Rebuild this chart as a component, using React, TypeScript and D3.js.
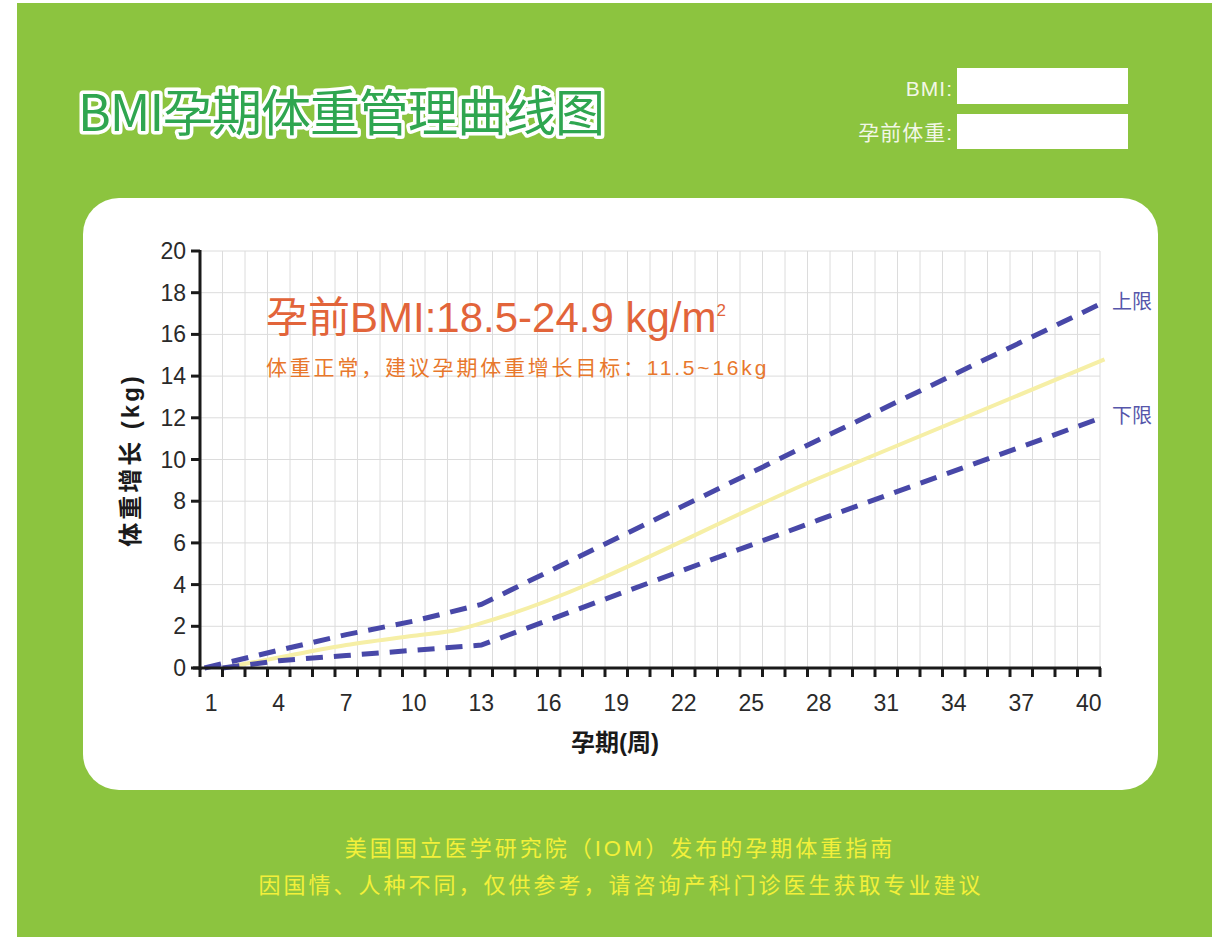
import React from "react";
import * as d3 from "d3";

const weeks = d3.range(1, 41);
const weekLabels = [1, 4, 7, 10, 13, 16, 19, 22, 25, 28, 31, 34, 37, 40];
const yTicks = [0, 2, 4, 6, 8, 10, 12, 14, 16, 18, 20];

const upperWeeks = [0.7, 4, 7, 10, 13, 28, 40.4];
const upperValues = [0, 0.85, 1.6, 2.25, 3.05, 10.95, 17.4];
const midWeeks = [1.5, 4, 7, 10, 12, 13, 28, 40.7];
const midValues = [0, 0.5, 1.1, 1.55, 1.85, 2.15, 9.1, 14.8];
const lowerWeeks = [1.5, 4, 7, 10, 13, 28, 40.3];
const lowerValues = [0, 0.35, 0.6, 0.85, 1.1, 7.1, 11.9];

const FONT = '"Liberation Sans", Arial, "Noto Sans CJK SC", sans-serif';

export default function App() {
  const xBand = d3.scaleBand<number>().domain(weeks).range([200, 1100]);
  const xw = d3.scaleLinear().domain([0.5, 40.5]).range([200, 1100]);
  const y = d3.scaleLinear().domain([0, 20]).range([668, 251]);

  const mk = (ws: number[], vs: number[], curve: any) =>
    d3
      .line<number>()
      .x((_, i) => xw(ws[i]))
      .y((v) => y(v))
      .curve(curve)(vs) || "";

  const boundaries = d3.range(0, 41).map((i) => 200 + i * xBand.bandwidth());

  return (
    <svg
      width={1220}
      height={940}
      style={{ position: "absolute", left: 0, top: 0, fontFamily: FONT }}
    >
      <rect x={0} y={0} width={1220} height={940} fill="#fff" />
      <rect x={17} y={3} width={1195} height={934} fill="#8cc43f" />
      {/* title */}
      <text
        x={78}
        y={131}
        fontSize={50}
        fontFamily={'"Noto Sans CJK SC", sans-serif'}
        fill="#2fa650"
        stroke="#ffffff"
        strokeWidth={7}
        paintOrder="stroke"
        strokeLinejoin="round"
        letterSpacing={-1}
      >
        BMI孕期体重管理曲线图
      </text>
      {/* form */}
      <text x={953} y={96} fontSize={21} fill="#f2f7e6" textAnchor="end" letterSpacing={1}>
        BMI:
      </text>
      <rect x={957} y={68} width={171} height={36} fill="#ffffff" />
      <text x={953} y={140} fontSize={21} fill="#f2f7e6" textAnchor="end" letterSpacing={1}>
        孕前体重:
      </text>
      <rect x={957} y={114} width={171} height={35} fill="#ffffff" />

      {/* white panel */}
      <rect x={83} y={198} width={1075} height={592} rx={36} fill="#ffffff" />

      {/* grid */}
      <g stroke="#dcdcdc" strokeWidth={1}>
        {boundaries.map((bx, i) => (
          <line key={"v" + i} x1={bx} x2={bx} y1={y(20)} y2={y(0)} />
        ))}
        {yTicks.map((t) => (
          <line key={"h" + t} x1={200} x2={1100} y1={y(t)} y2={y(t)} />
        ))}
      </g>

      {/* in-chart texts */}
      <text x={266} y={332} fontSize={42} fill="#e2643a">
        孕前BMI:18.5-24.9 kg/m
        <tspan fontSize={17} dy={-16}>2</tspan>
      </text>
      <text x={266} y={375} fontSize={21} fill="#e8782c" letterSpacing={2.8}>
        体重正常，建议孕期体重增长目标：11.5~16kg
      </text>

      {/* lines */}
      <path d={mk(midWeeks, midValues, d3.curveMonotoneX)} fill="none" stroke="#f6efa6" strokeWidth={4} />
      <path
        d={mk(upperWeeks, upperValues, d3.curveLinear)}
        fill="none"
        stroke="#4848a8"
        strokeWidth={5}
        strokeDasharray="17 11"
      />
      <path
        d={mk(lowerWeeks, lowerValues, d3.curveLinear)}
        fill="none"
        stroke="#4848a8"
        strokeWidth={5}
        strokeDasharray="17 11"
      />
      <text x={1112} y={309} fontSize={20} fill="#5656aa">上限</text>
      <text x={1112} y={423} fontSize={20} fill="#5656aa">下限</text>

      {/* axes */}
      <g stroke="#1a1a1a">
        <line x1={200} x2={200} y1={y(20) - 1} y2={y(0) + 2} strokeWidth={3} />
        <line x1={193} x2={1101} y1={y(0)} y2={y(0)} strokeWidth={3} />
        {yTicks.map((t) => (
          <line key={"yt" + t} x1={191} x2={200} y1={y(t)} y2={y(t)} strokeWidth={3} />
        ))}
        {boundaries.map((bx, i) => (
          <line key={"xt" + i} x1={bx} x2={bx} y1={y(0)} y2={y(0) + 9} strokeWidth={3} />
        ))}
      </g>
      {yTicks.map((t) => (
        <text key={"yl" + t} x={186} y={y(t) + 8} fontSize={23} fill="#2a2a2a" textAnchor="end">
          {t}
        </text>
      ))}
      {weekLabels.map((w) => (
        <text
          key={"xl" + w}
          x={(xBand(w) as number) + xBand.bandwidth() / 2}
          y={711}
          fontSize={23}
          fill="#2a2a2a"
          textAnchor="middle"
        >
          {w}
        </text>
      ))}
      <text
        transform="translate(139,460) rotate(-90)"
        fontSize={24}
        fontWeight="bold"
        fill="#1a1a1a"
        textAnchor="middle"
        letterSpacing={3}
      >
        体重增长 (kg)
      </text>
      <text x={615} y={751} fontSize={24} fontWeight="bold" fill="#1a1a1a" textAnchor="middle">
        孕期(周)
      </text>

      {/* footer */}
      <text x={620} y={856} fontSize={22} fill="#f3f03a" textAnchor="middle" letterSpacing={3}>
        美国国立医学研究院（IOM）发布的孕期体重指南
      </text>
      <text x={621} y={893} fontSize={22} fill="#f3f03a" textAnchor="middle" letterSpacing={3}>
        因国情、人种不同，仅供参考，请咨询产科门诊医生获取专业建议
      </text>
    </svg>
  );
}
